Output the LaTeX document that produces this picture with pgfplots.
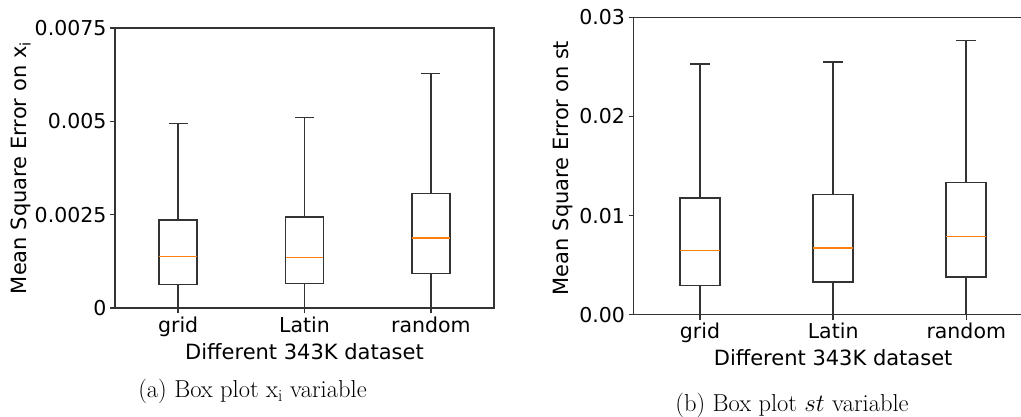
\documentclass[border=0pt]{standalone}
\usepackage{pgfplots}
\pgfplotsset{compat=1.18}
\usepgfplotslibrary{statistics}
\usepackage{fontspec}
\newfontfamily\dejavu{DejaVu Sans}

\definecolor{mplorange}{HTML}{FF7F0E}
\definecolor{mplline}{HTML}{333333}

\pgfplotsset{
  mplbox/.style={
    scale only axis,
    anchor=south west,
    xmin=0.5, xmax=3.5,
    xtick={1,2,3},
    xticklabels={grid,Latin,random},
    tick pos=left,
    tick align=outside,
    major tick length=5pt,
    axis line style={line width=1.5pt, draw=mplline},
    every tick/.style={line width=1.5pt, draw=mplline},
    ticklabel style={font=\dejavu\fontsize{20.5}{24}\selectfont},
    label style={font=\dejavu\fontsize{21}{25}\selectfont},
    xlabel={Different 343K dataset},
    boxplot/draw direction=y,
    boxplot/box extend=0.3,
    boxplot/whisker extend=0.15,
    boxplot/every box/.style={draw=mplline, line width=1.6pt},
    boxplot/every whisker/.style={draw=mplline, line width=1.6pt},
    boxplot/every median/.style={draw=mplorange, line width=1.5pt},
    clip=false,
  },
}

\begin{document}
\begin{tikzpicture}
\useasboundingbox (0pt,0pt) rectangle (1021pt,417pt);

% (a) x_i, values in units of 1e-3
\begin{axis}[mplbox,
  at={(115pt,109pt)}, width=379pt, height=280pt,
  ymin=0, ymax=7.5,
  ytick={0,2.5,5,7.5},
  yticklabels={0,0.0025,0.005,0.0075},
  ylabel={Mean Square Error on x\textsubscript{i}},
  ylabel style={yshift=-3pt},
]
\addplot[boxplot prepared={draw position=1, lower whisker=0, lower quartile=0.634, median=1.375, upper quartile=2.357, upper whisker=4.947}] coordinates {};
\addplot[boxplot prepared={draw position=2, lower whisker=0, lower quartile=0.661, median=1.357, upper quartile=2.437, upper whisker=5.098}] coordinates {};
\addplot[boxplot prepared={draw position=3, lower whisker=0, lower quartile=0.920, median=1.875, upper quartile=3.063, upper whisker=6.277}] coordinates {};
\end{axis}

% (b) st, values in units of 1e-2
\begin{axis}[mplbox,
  at={(633.5pt,102.3pt)}, width=399.3pt, height=297.4pt,
  ymin=0, ymax=3,
  ytick={0,1,2,3},
  yticklabels={0.00,0.01,0.02,0.03},
  ylabel={Mean Square Error on st},
  ylabel style={xshift=-2pt},
]
\addplot[boxplot prepared={draw position=1, lower whisker=0, lower quartile=0.2925, median=0.6456, upper quartile=1.180, upper whisker=2.526}] coordinates {};
\addplot[boxplot prepared={draw position=2, lower whisker=0, lower quartile=0.327, median=0.673, upper quartile=1.214, upper whisker=2.546}] coordinates {};
\addplot[boxplot prepared={draw position=3, lower whisker=0, lower quartile=0.383, median=0.791, upper quartile=1.335, upper whisker=2.764}] coordinates {};
\end{axis}

\node[font=\fontsize{24.5}{28}\selectfont, anchor=base] at (252.5pt,19pt) {(a) Box plot $\mathrm{x_i}$ variable};
\node[font=\fontsize{24.5}{28}\selectfont, anchor=base] at (792pt,5pt) {(b) Box plot $st$ variable};
\end{tikzpicture}
\end{document}
